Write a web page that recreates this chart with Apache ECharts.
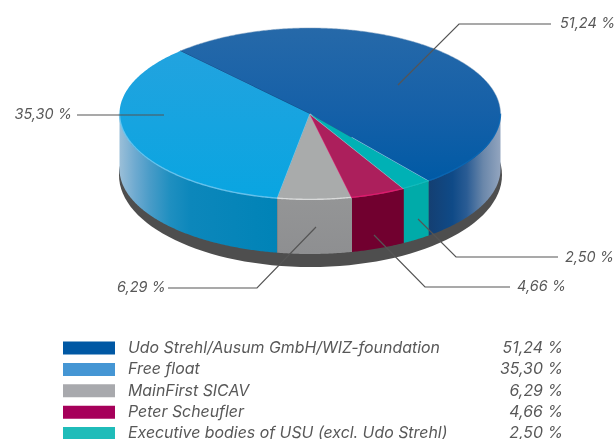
<!DOCTYPE html>
<html>
<head>
<meta charset="utf-8">
<style>html,body{margin:0;padding:0;background:#fff}#c{width:616px;height:439px}</style>
<script src="https://cdn.jsdelivr.net/npm/echarts@6/dist/echarts.min.js"></script>
</head>
<body>
<div id="c"></div>
<script>
// --- data
const names = ['Udo Strehl/Ausum GmbH/WIZ-foundation', 'Free float', 'MainFirst SICAV', 'Peter Scheufler', 'Executive bodies of USU (excl. Udo Strehl)'];
const values = [51.24, 35.30, 6.29, 4.66, 2.50];
const clockwiseOrder = [0, 4, 3, 2, 1];

// --- styles
const legendColors = ['#0058a4', '#4596d4', '#a8a9ad', '#a6005a', '#1fbcb9'];
const L = (x, y, x2, y2, stops) => new echarts.graphic.LinearGradient(x, y, x2, y2, stops.map((c) => ({offset: c[0], color: c[1]})));
const topFills = [
  L(0, 0, 0, 1, [[0, '#2669a9'], [0.55, '#1560a8'], [1, '#005aa5']]),
  L(0, 0, 0, 1, [[0, '#22a3df'], [1, '#09a5e1']]),
  '#a9abab', '#ac1f5c', '#00b1b5'
];
const sideFills = [
  L(0, 0, 1, 0, [[0, '#143f72'], [0.33, '#0f4a87'], [0.53, '#2a5c94'], [0.76, '#6a87aa'], [1, '#93a5bf']]),
  L(0, 0, 1, 0, [[0, '#9bbfd8'], [0.1, '#6eaad0'], [0.19, '#4a9cc8'], [0.32, '#1f8fc0'], [0.45, '#0c87bb'], [1, '#0083b7']]),
  L(0, 0, 0, 1, [[0, '#949596'], [1, '#8e8f91']]),
  '#71002f', '#00aba9'
];
const rimColors = ['#0a66b4', '#6cc4ee', '#dedfdf', '#e2196f', '#12bcbd'];
const startEdge = ['#0e4d88', '#7fcdf0', '#ee2c82', '#8fd8dc', null];
const textColor = '#585858';
const font = 'italic 14.5px Inter';
const legendFontSize = 15.9;

// --- layout
const cx = 310, cy = 114, rx = 190.5, ry = 86;
const sideBottom = {cy: 169, ry: 85};
const base = {cx: 310.5, cy: 175, rx: 191.5, ry: 92};
const firstAngle = 227;
const leaders = [
  {pts: [[398, 85], [459, 24], [551, 24]], tx: 560, ty: 24, align: 'left'},
  {pts: [[164, 115], [77, 115]], tx: 72, ty: 115, align: 'right'},
  {pts: [[316, 227], [257, 288], [168, 288]], tx: 117, ty: 288, align: 'left'},
  {pts: [[374, 235], [425, 287], [510, 287]], tx: 517, ty: 287, align: 'left'},
  {pts: [[418, 219], [456, 257], [558, 257]], tx: 565, ty: 258, align: 'left'}
];

const fmt = v => v.toFixed(2).replace('.', ',') + ' %';
const total = values.reduce((a, b) => a + b, 0);
let acc = firstAngle;
const spans = [];
clockwiseOrder.forEach(i => { const s = acc; acc += values[i] / total * 360; spans[i] = [s, acc]; });

const pt = (t, yc, yr) => { const r = t * Math.PI / 180; return [cx + rx * Math.cos(r), yc + yr * Math.sin(r)]; };
function arc(a, b, yc, yr) {
  const out = [], n = Math.max(2, Math.ceil(Math.abs(b - a) * 2));
  for (let i = 0; i <= n; i++) out.push(pt(a + (b - a) * i / n, yc, yr));
  return out;
}
// part of [a,b] facing the viewer (screen angle between 0 and 180, modulo 360)
function frontParts(a, b) {
  const parts = [];
  for (const k of [0, 360]) {
    const s = Math.max(a, k), e = Math.min(b, k + 180);
    if (e > s) parts.push([s, e]);
  }
  return parts;
}
function sliceItem(i) {
  return function () {
    const [a, b] = spans[i], children = [];
    frontParts(a, b).forEach(([s, e]) => {
      children.push({type: 'polygon', shape: {points: arc(s, e, cy, ry).concat(arc(e, s, sideBottom.cy, sideBottom.ry))}, style: {fill: sideFills[i]}});
    });
    children.push({type: 'polygon', shape: {points: [[cx, cy]].concat(arc(a, b, cy, ry))}, style: {fill: topFills[i]}});
    frontParts(a, b).forEach(([s, e]) => {
      children.push({type: 'polyline', shape: {points: arc(s, e, cy - 0.6, ry)}, style: {fill: null, stroke: rimColors[i], lineWidth: 1.4, opacity: 0.9}});
    });
    if (startEdge[i]) {
      const p = pt(a, cy, ry);
      children.push({type: 'line', shape: {x1: cx, y1: cy, x2: p[0], y2: p[1]}, style: {stroke: startEdge[i], lineWidth: 1.1, opacity: 0.9}});
    }
    if (i === 0) {
      // light edge of the large slice above the small wedges, soft back rim
      const p = pt(b, cy, ry), q = [cx + (p[0] - cx) * 0.35, cy + (p[1] - cy) * 0.35];
      children.push({type: 'line', shape: {x1: q[0], y1: q[1], x2: p[0], y2: p[1]}, style: {stroke: '#a9d2ee', lineWidth: 1.1, opacity: 0.85}});
      children.push({type: 'polyline', shape: {points: arc(a, 360, cy, ry)}, style: {fill: null, stroke: '#7f9fc0', lineWidth: 1, opacity: 0.5}});
    }
    return {type: 'group', children};
  };
}

const series = [{
  type: 'custom', name: 'base', coordinateSystem: 'none', data: [[0]], silent: true, z: 1,
  renderItem: () => ({type: 'ellipse', shape: {cx: base.cx, cy: base.cy, rx: base.rx, ry: base.ry}, style: {fill: '#4e4e4e'}})
}];
names.forEach((n, i) => series.push({
  type: 'custom', name: n, coordinateSystem: 'none', data: [[values[i]]], silent: true, z: 2,
  itemStyle: {color: legendColors[i]}, renderItem: sliceItem(i)
}));
series.push({
  type: 'custom', name: 'leaders', coordinateSystem: 'none', data: values.map(v => [v]), silent: true, z: 3,
  renderItem: (p) => {
    const l = leaders[p.dataIndex];
    return {type: 'group', children: [
      {type: 'polyline', shape: {points: l.pts}, style: {fill: null, stroke: '#555555', lineWidth: 1.2}},
      {type: 'text', style: {text: fmt(values[p.dataIndex]), x: l.tx, y: l.ty, font, fill: textColor, textAlign: l.align, textVerticalAlign: 'middle'}}
    ]};
  }
});

const chart = echarts.init(document.getElementById('c'), null, {renderer: 'canvas'});
const textBase = {fontFamily: 'Inter', fontStyle: 'italic', fontSize: legendFontSize, color: textColor, lineHeight: 13};
chart.setOption({
  animation: false,
  backgroundColor: '#ffffff',
  legend: {
    data: names, orient: 'vertical', left: 63, top: 340, width: 520, height: 300, padding: 0,
    icon: 'rect', itemWidth: 52, itemHeight: 13, itemGap: 5.4, selectedMode: false,
    formatter: name => `{n|${name}}{v|${fmt(values[names.indexOf(name)])}}`,
    textStyle: {rich: {
      n: Object.assign({}, textBase, {width: 372, padding: [0, 0, 0, 8]}),
      v: Object.assign({}, textBase, {width: 63, align: 'right'})
    }}
  },
  series
});
</script>
</body>
</html>
